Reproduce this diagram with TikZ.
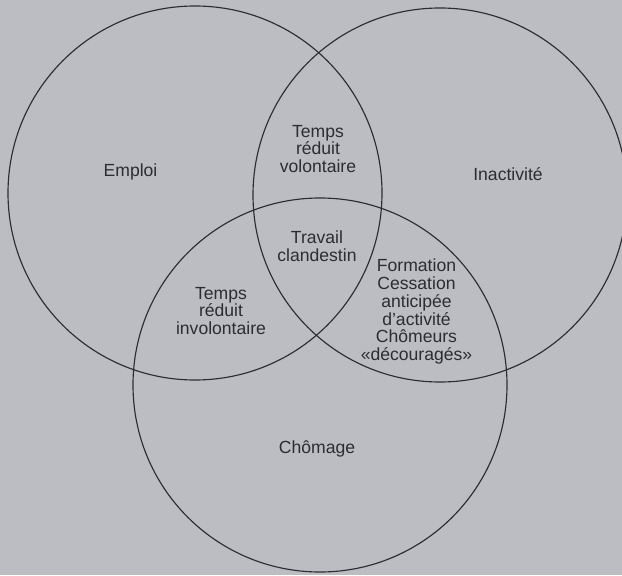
\documentclass[tikz,border=0pt]{standalone}
\usepackage{fontspec}
\setmainfont{Liberation Sans}
\definecolor{fondgris}{RGB}{187,189,194}
\definecolor{traitgris}{RGB}{45,44,50}
\begin{document}
\begin{tikzpicture}[x=0.2mm,y=0.2mm,
  ensemble/.style={draw=traitgris,line width=0.65pt},
  etiquette/.style={align=center,text=traitgris,inner sep=0pt,font=\fontsize{10}{10.2}\selectfont}]
\useasboundingbox (0,0) rectangle (622,575);
\fill[fondgris] (0,0) rectangle (622,575);
\draw[ensemble] (195,382) circle (187);
\draw[ensemble] (440,380) circle (187);
\draw[ensemble] (320,190) circle (187);
\node[etiquette] (emploi) at (130.5,403) {Emploi};
\node[etiquette] (inactivite) at (508,401) {Inactivité};
\node[etiquette] (chomage) at (317,126) {Chômage};
\node[etiquette] (volontaire) at (318,426) {Temps\\réduit\\volontaire};
\node[etiquette] (clandestin) at (317,328.5) {Travail\\clandestin};
\node[etiquette] (involontaire) at (221,264) {Temps\\réduit\\involontaire};
\node[etiquette] (formation) at (416.5,263.5) {Formation\\Cessation\\anticipée\\d’activité\\Chômeurs\\«découragés»};
\end{tikzpicture}
\end{document}
